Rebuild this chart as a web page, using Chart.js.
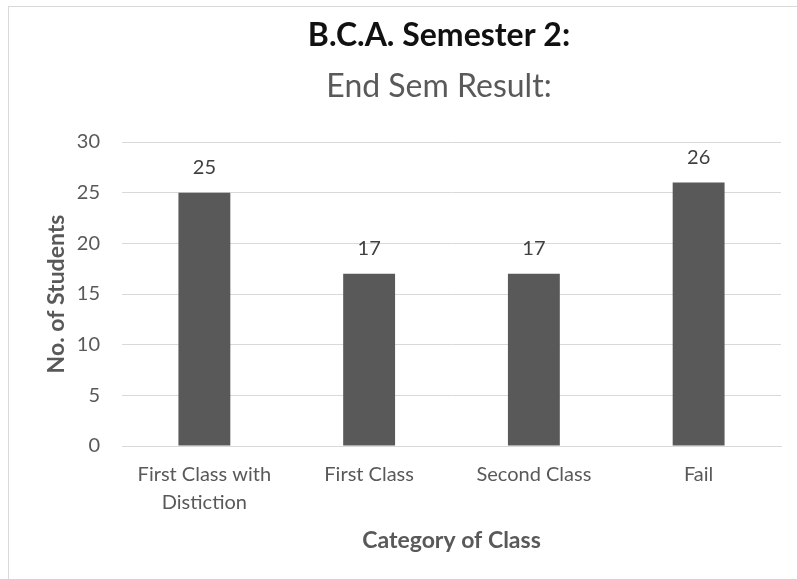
<!DOCTYPE html>
<html>
<head>
<meta charset="utf-8">
<script src="https://cdn.jsdelivr.net/npm/chart.js@4/dist/chart.umd.min.js"></script>
<style>
  html, body { margin: 0; padding: 0; background: #fff; }
  #wrap { position: relative; width: 797px; height: 579px; overflow: hidden; }
  #frame { position: absolute; left: 8px; top: 6px; width: 800px; height: 580px; border: 1px solid #d9d9d9; box-sizing: border-box; }
  #c { position: absolute; left: 0; top: 0; }
</style>
</head>
<body>
<div id="wrap">
  <div id="frame"></div>
  <canvas id="c" width="797" height="579"></canvas>
</div>
<script>
// chart data
const categories = [['First Class with', 'Distiction'], 'First Class', 'Second Class', 'Fail'];
const students = [25, 17, 17, 26];
const yTicks = [0, 5, 10, 15, 20, 25, 30];

const FONT = 'Lato, "Open Sans", sans-serif';

// draws the two title lines
const titlePlugin = {
  id: 'titles',
  afterDraw(chart) {
    const ctx = chart.ctx;
    ctx.save();
    ctx.textAlign = 'center';
    ctx.textBaseline = 'middle';
    ctx.fillStyle = '#111';
    ctx.font = 'bold 32px ' + FONT;
    ctx.fillText('B.C.A. Semester 2:', 439, 36);
    ctx.fillStyle = '#595959';
    ctx.font = '32px ' + FONT;
    ctx.fillText('End Sem Result:', 439, 87);
    ctx.restore();
  }
};

// value labels above each bar
const valueLabels = {
  id: 'valueLabels',
  afterDatasetsDraw(chart) {
    const ctx = chart.ctx;
    const meta = chart.getDatasetMeta(0);
    ctx.save();
    ctx.textAlign = 'center';
    ctx.textBaseline = 'middle';
    ctx.fillStyle = '#404040';
    ctx.font = '20px ' + FONT;
    meta.data.forEach((bar, i) => {
      ctx.fillText(students[i], bar.x, bar.y - 25);
    });
    ctx.restore();
  }
};

const ctx = document.getElementById('c').getContext('2d');
new Chart(ctx, {
  type: 'bar',
  data: {
    labels: categories,
    datasets: [{
      data: students,
      backgroundColor: '#595959',
      barPercentage: 1,
      categoryPercentage: 0.315
    }]
  },
  options: {
    responsive: false,
    animation: false,
    layout: { padding: { left: 39, top: 142, right: 16, bottom: 21 } },
    plugins: {
      legend: { display: false },
      tooltip: { enabled: false }
    },
    scales: {
      x: {
        grid: { display: false, drawTicks: false },
        border: { color: '#d9d9d9', width: 1 },
        ticks: { color: '#595959', font: { family: FONT, size: 20, lineHeight: 1.4 }, padding: 15, maxRotation: 0 },
        title: { display: true, text: 'Category of Class', color: '#595959', font: { family: FONT, size: 23, weight: 'bold' } },
        afterFit(scale) { scale.height = 112; }
      },
      y: {
        min: 0,
        max: 30,
        afterBuildTicks(scale) { scale.ticks = yTicks.map(v => ({ value: v })); },
        grid: { color: '#d9d9d9', drawTicks: false },
        border: { display: false },
        ticks: { color: '#595959', font: { family: FONT, size: 20 }, padding: 22 },
        title: { display: true, text: 'No. of Students', color: '#595959', font: { family: FONT, size: 23, weight: 'bold' } },
        afterFit(scale) { scale.width = 83; }
      }
    }
  },
  plugins: [titlePlugin, valueLabels]
});
</script>
</body>
</html>
